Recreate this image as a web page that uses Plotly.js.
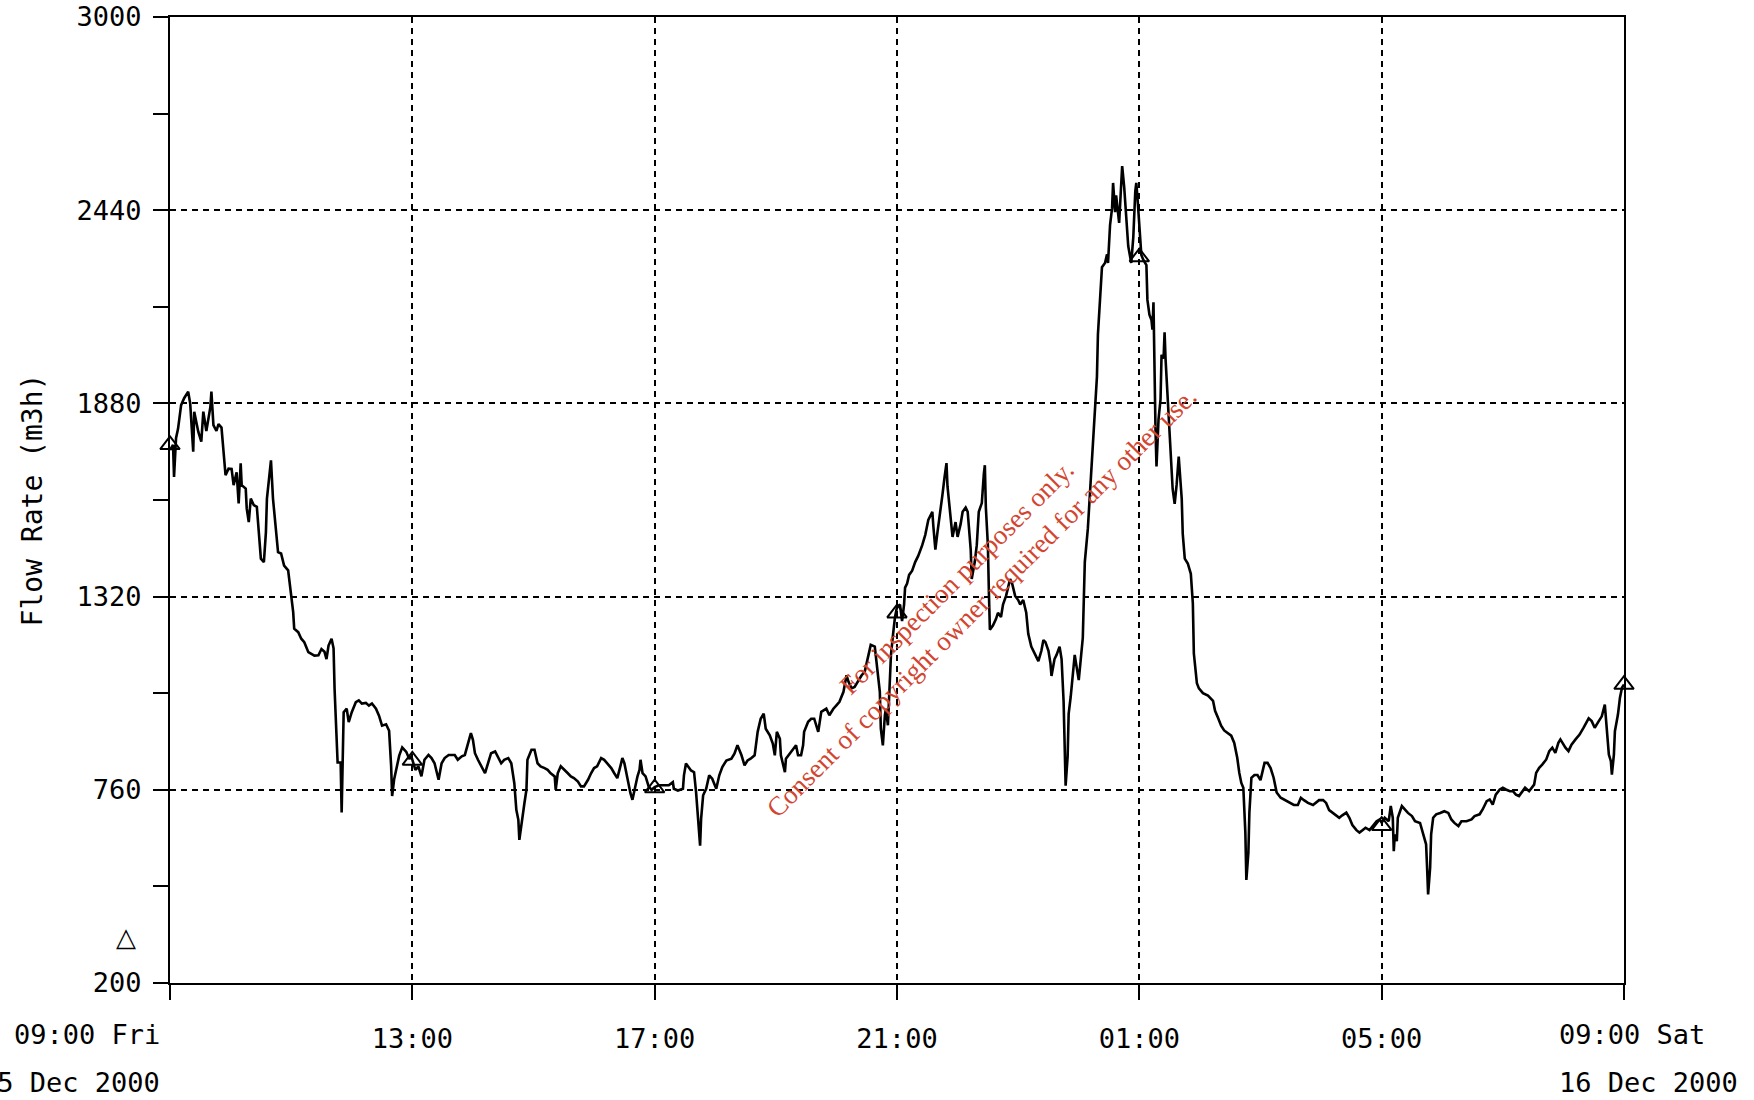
<!DOCTYPE html>
<html>
<head>
<meta charset="utf-8">
<script src="https://cdn.plot.ly/plotly-3.0.1.min.js"></script>
<style>
  html, body { margin: 0; padding: 0; background: #ffffff; }
  #chart { width: 1754px; height: 1100px; }
</style>
</head>
<body>
<div id="chart"></div>
<script>
// Elapsed minutes since 09:00 Fri 15 Dec 2000
const minutes = [
  0,3,4,6,8,11,14,18,20,23,24,28,31,33,36,40,41,43,46,48,51,53,55,58,61,63,66,68,70,71,75,76,78,80,83,86,88,90,93,95,96,98,100,102,105,107,110,113,117,120,122,123,127,130,133,137,140,143,147,150,153,155,157,160,162,163,166,169,170,171,172,175,177,180,184,187,190,194,197,200,204,207,210,214,217,219,220,222,224,227,230,234,237,
  239,243,246,249,252,256,259,262,266,269,272,276,282,285,289,292,295,298,300,302,305,308,312,315,318,322,325,328,331,335,338,341,343,345,346,348,351,353,354,358,361,364,367,371,374,377,381,382,384,387,391,394,397,400,404,407,410,414,417,420,423,427,430,433,437,440,443,446,448,450,453,456,458,460,463,465,466,468,471,474,477,
  480,484,489,494,498,499,503,508,509,511,516,519,521,523,525,526,528,531,534,537,541,544,547,551,556,559,562,566,569,572,575,579,582,585,588,590,594,597,599,601,604,605,609,610,614,617,620,622,625,627,628,632,635,638,642,645,650,653,657,660,663,667,670,672,675,678,681,685,688,691,694,698,699,701,703,704,706,708,709,711,713,714,716,
  718,720,723,725,727,728,730,732,735,738,741,745,748,751,755,756,758,760,763,765,767,769,770,773,775,778,780,783,785,788,790,793,794,797,799,801,804,806,807,808,810,811,812,815,818,820,823,825,828,830,832,834,835,837,840,842,845,848,850,853,857,860,863,865,867,870,872,873,876,878,881,883,885,886,887,889,890,892,895,896,898,900,902,904,905,906,909,911,914,916,918,919,921,923,926,928,929,931,933,934,936,937,940,942,943,945,947,949,952,954,956,957,958,
  960,962,964,967,968,970,972,973,974,975,976,977,979,981,982,984,985,986,988,991,993,995,997,999,1001,1002,1003,1005,1008,1011,1013,1014,1017,1019,1023,1028,1033,1035,1038,1041,1044,1047,1051,1054,1057,1059,1061,1063,1065,1066,1068,1069,1071,1074,1077,1080,1082,1084,1087,1090,1093,1096,1100,1104,1109,1113,1117,1120,1123,1127,1132,1135,1138,1142,1145,1148,1151,1155,1158,1161,1165,1168,1171,1175,1178,1181,1184,1188,1192,1195,1198,
  1200,1203,1207,1209,1211,1212,1213,1215,1216,1220,1223,1226,1230,1233,1238,1241,1244,1245,1246,1248,1249,1251,1254,1258,1262,1266,1269,1272,1276,1279,1284,1289,1292,1297,1300,1304,1307,1310,1313,1317,1320,1323,1327,1330,1333,1336,1340,1342,1346,1349,1351,1353,1356,1359,1363,1366,1369,1372,1375,1377,1382,1385,1388,1392,1396,1400,1405,1408,1411,1415,1418,1421,1423,1425,1427,1428,1430,1431,1434,1436,1438,1440
];
// Flow rate (m3h)
const flow = [
  1745,1760,1667,1780,1807,1875,1895,1914,1880,1740,1856,1798,1769,1856,1800,1870,1914,1817,1800,1820,1810,1740,1672,1691,1690,1643,1680,1590,1706,1643,1633,1575,1536,1604,1585,1580,1507,1430,1420,1507,1604,1662,1715,1604,1498,1449,1445,1410,1396,1314,1275,1227,1217,1198,1188,1159,1154,1149,1150,1168,1160,1139,1178,1198,1170,1052,839,839,694,839,985,995,956,985,1014,1019,1010,1012,1004,1010,995,975,946,950,931,829,742,791,820,859,883,870,849,
  857,818,828,799,847,861,852,837,789,837,852,861,861,847,857,861,895,924,905,866,847,832,808,837,866,871,852,837,847,852,837,779,702,673,615,663,721,760,847,876,876,837,828,823,818,808,799,760,808,828,818,808,799,794,784,770,770,789,808,823,828,852,847,837,823,808,794,828,852,837,789,750,731,760,799,818,847,808,799,770,760,
  768,773,773,773,782,763,758,763,802,836,816,811,753,676,598,676,744,763,802,792,763,802,826,845,850,865,889,860,831,845,850,860,928,966,981,937,918,894,860,928,908,860,811,850,865,879,889,860,860,889,928,957,966,966,928,986,995,976,995,1005,1015,1044,1092,1073,1054,1058,1073,1092,1102,1141,1180,1175,1150,1112,1044,937,889,976,995,947,1092,1150,1208,
  1260,1290,1297,1249,1297,1346,1358,1383,1395,1420,1438,1469,1499,1542,1566,1524,1456,1505,1566,1615,1664,1707,1640,1542,1493,1536,1493,1530,1566,1578,1566,1456,1371,1420,1469,1566,1591,1676,1701,1578,1469,1334,1224,1236,1255,1273,1261,1297,1322,1346,1371,1358,1346,1322,1310,1297,1310,1273,1212,1175,1151,1133,1163,1194,1188,1163,1126,1090,1139,1151,1175,1139,1016,919,772,857,980,1029,1126,1151,1114,1078,1139,1200,1310,1420,1517,1615,1762,1860,1957,2080,2165,2275,2287,2312,2287,2397,2446,2519,2434,2483,2403,2495,2568,2507,2422,2336,2287,2361,2495,2519,2483,
  2380,2310,2296,2281,2180,2137,2122,2094,2173,1935,1805,1697,1834,1892,2021,2010,2086,2007,1906,1762,1632,1589,1646,1726,1646,1603,1502,1430,1416,1386,1300,1155,1069,1054,1040,1033,1018,989,968,946,932,925,917,896,852,809,780,766,636,499,578,694,795,803,803,788,816,838,838,823,795,752,737,730,722,716,716,737,730,722,716,722,730,730,722,701,694,686,679,686,694,679,658,643,636,643,650,643,660,669,674,
  665,679,669,713,679,582,631,611,679,713,703,693,684,669,664,635,602,534,457,534,631,679,689,693,698,693,674,664,655,669,669,674,684,689,703,727,732,717,746,761,766,761,756,756,746,742,756,766,756,766,775,809,824,833,848,872,882,867,896,906,882,872,891,906,920,940,967,959,940,959,973,1007,930,862,843,804,862,930,978,1027,1056,1065
];
// Four-hourly triangle markers on the trace
const markerMinutes = [0, 240, 480, 720, 960, 1200, 1440];
const markerFlow = [1760, 845, 765, 1272, 2304, 656, 1065];

const xTickVals = [0, 240, 480, 720, 960, 1200, 1440];
const xTickText = ['', '13:00', '17:00', '21:00', '01:00', '05:00', ''];
const yTickVals = [200, 760, 1320, 1880, 2440, 3000];
const yTickText = ['200', '760', '1320', '1880', '2440', '3000'];
const yMinorVals = [480, 1040, 1600, 2160, 2720];

const startLabel = ['09:00 Fri', '15 Dec 2000'];
const endLabel = ['09:00 Sat', '16 Dec 2000'];
const yTitle = 'Flow Rate (m3h)';
const watermark = ['For inspection purposes only.', 'Consent of copyright owner required for any other use.'];

const MONO = '"DejaVu Sans Mono", "Liberation Mono", monospace';

const traces = [
  {
    type: 'scatter', mode: 'lines', x: minutes, y: flow,
    line: { color: '#000000', width: 2.6 },
    hoverinfo: 'skip', showlegend: false
  },
  {
    type: 'scatter', mode: 'markers', x: markerMinutes, y: markerFlow,
    marker: { symbol: 'triangle-up-open', size: 17, color: '#000000', line: { width: 2, color: '#000000' } },
    cliponaxis: false, hoverinfo: 'skip', showlegend: false
  }
];

const gridStyle = { showgrid: true, gridcolor: '#000000', gridwidth: 2, griddash: '6px,5px' };

const layout = {
  width: 1754, height: 1100,
  paper_bgcolor: '#ffffff', plot_bgcolor: '#ffffff',
  margin: { l: 170, r: 130, t: 17, b: 117, pad: 0 },
  showlegend: false,
  xaxis: Object.assign({
    range: [0, 1440], tickmode: 'array', tickvals: xTickVals, ticktext: xTickText,
    ticks: 'outside', ticklen: 15, tickwidth: 2, tickcolor: '#000000',
    showline: true, linecolor: '#000000', linewidth: 2, mirror: true,
    zeroline: false, ticklabelstandoff: 16,
    tickfont: { family: MONO, size: 27, color: '#000000' }
  }, gridStyle),
  yaxis: Object.assign({
    range: [200, 3000], tickmode: 'array', tickvals: yTickVals, ticktext: yTickText,
    ticks: 'outside', ticklen: 15, tickwidth: 2, tickcolor: '#000000',
    showline: true, linecolor: '#000000', linewidth: 2, mirror: true,
    zeroline: false, ticklabelstandoff: 6,
    tickfont: { family: MONO, size: 27, color: '#000000' },
    minor: { tickmode: 'array', tickvals: yMinorVals, ticks: 'outside', ticklen: 15, tickwidth: 2, tickcolor: '#000000', showgrid: false },
    title: { text: yTitle, font: { family: MONO, size: 28, color: '#000000' }, standoff: 26 }
  }, gridStyle),
  annotations: [
    { xref: 'x', yref: 'paper', x: 0, y: 0, xanchor: 'right', yanchor: 'middle', xshift: -8, yshift: -51,
      text: startLabel[0], showarrow: false, font: { family: MONO, size: 27, color: '#000000' } },
    { xref: 'x', yref: 'paper', x: 0, y: 0, xanchor: 'right', yanchor: 'middle', xshift: -8, yshift: -99,
      text: startLabel[1], showarrow: false, font: { family: MONO, size: 27, color: '#000000' } },
    { xref: 'x', yref: 'paper', x: 1440, y: 0, xanchor: 'left', yanchor: 'middle', xshift: -67, yshift: -51,
      text: endLabel[0], showarrow: false, font: { family: MONO, size: 27, color: '#000000' } },
    { xref: 'x', yref: 'paper', x: 1440, y: 0, xanchor: 'left', yanchor: 'middle', xshift: -67, yshift: -99,
      text: endLabel[1], showarrow: false, font: { family: MONO, size: 27, color: '#000000' } },
    { xref: 'paper', yref: 'paper', x: -0.030, y: 0.048, xanchor: 'center', yanchor: 'middle',
      text: '\u25B3', showarrow: false, font: { family: '"DejaVu Sans", sans-serif', size: 26, color: '#000000' } },
    { xref: 'paper', yref: 'paper', x: 0.550, y: 0.407, xanchor: 'center', yanchor: 'middle',
      text: watermark[0] + '<br>' + watermark[1], textangle: -45, align: 'center', showarrow: false,
      font: { family: '"Liberation Serif", "DejaVu Serif", serif', size: 27, color: '#d2452f' } }
  ]
};

Plotly.newPlot('chart', traces, layout, { displayModeBar: false, staticPlot: true });
</script>
</body>
</html>
